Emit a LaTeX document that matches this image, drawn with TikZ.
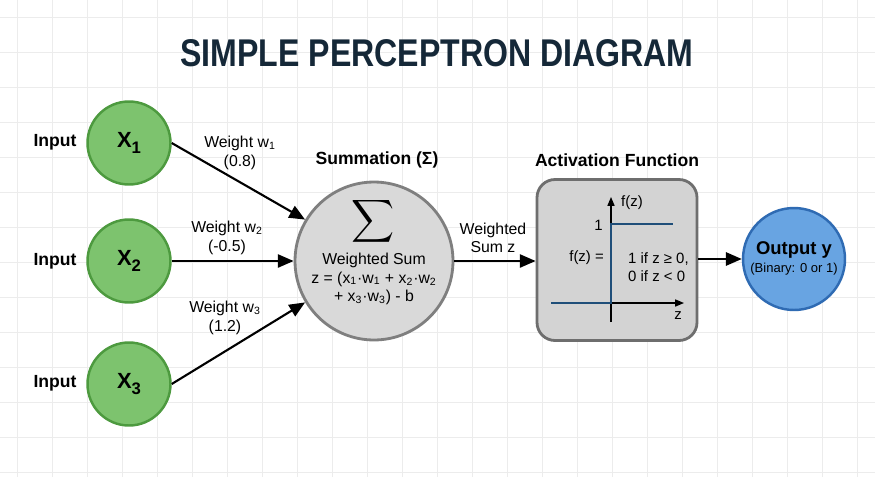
\documentclass[tikz,border=0pt]{standalone}
\usepackage{fontspec}
\setmainfont{Liberation Sans}
\usetikzlibrary{arrows.meta}

\definecolor{gridgray}{HTML}{ECECEC}
\definecolor{inputgreen}{HTML}{7DC36E}
\definecolor{greenedge}{HTML}{4D9A3F}
\definecolor{sumgray}{HTML}{D9D9D9}
\definecolor{sumedge}{HTML}{7F7F7F}
\definecolor{boxgray}{HTML}{D3D3D3}
\definecolor{boxedge}{HTML}{6E6E6E}
\definecolor{outblue}{HTML}{68A4E2}
\definecolor{outedge}{HTML}{2F6BB3}
\definecolor{stepnavy}{HTML}{1F4E79}
\definecolor{titlenavy}{HTML}{152838}

\tikzset{
  inputnode/.style={circle, draw=greenedge, fill=inputgreen, line width=1.4pt,
    minimum size=1.66cm, inner sep=0pt, font=\fontsize{12.5}{12.5}\selectfont\bfseries},
  inputlabel/.style={font=\fontsize{10}{10}\selectfont\bfseries},
  weightlabel/.style={align=center, font=\fontsize{9}{10.5}\selectfont},
  headlabel/.style={font=\fontsize{10}{10}\selectfont\bfseries},
  flow/.style={line width=1.2pt, -{Triangle[length=9pt,width=7.5pt]}},
}

\newcommand{\xsub}[2]{#1\raisebox{-0.5ex}{\fontsize{9.5}{9.5}\selectfont #2}}

\begin{document}
\begin{tikzpicture}[x=0.02cm, y=-0.02cm]
    \useasboundingbox (0,0) rectangle (875,477);
    \fill[white] (0,0) rectangle (875,477);

    % faint background grid
    \foreach \gx in {17,52,...,875}
        \draw[gridgray, line width=0.4pt] (\gx,0) -- (\gx,477);
    \foreach \gy in {17,52,...,477}
        \draw[gridgray, line width=0.4pt] (0,\gy) -- (875,\gy);

    % title
    \node[text=titlenavy, font=\fontsize{22}{22}\selectfont\bfseries] (title) at (437,53)
        {\scalebox{0.83}[1]{SIMPLE PERCEPTRON DIAGRAM}};

    % inputs
    \node[inputnode] (x1) at (129,143) {\xsub{X}{1}};
    \node[inputnode] (x2) at (129,261) {\xsub{X}{2}};
    \node[inputnode] (x3) at (129,384) {\xsub{X}{3}};
    \node[inputlabel] (in1) at (55,142) {Input};
    \node[inputlabel] (in2) at (55,261) {Input};
    \node[inputlabel] (in3) at (55,383) {Input};

    % summation
    \node[circle, draw=sumedge, fill=sumgray, line width=1.6pt, minimum size=3.16cm,
        inner sep=0pt] (sum) at (374,261) {};
    \node (sigma) at (373,221) {\scalebox{1.7}{$\displaystyle\sum$}};
    \node[align=center, font=\fontsize{9}{10.6}\selectfont] (sumtext) at (374,279)
        {Weighted Sum\\z = (x\textsubscript{1}·w\textsubscript{1} + x\textsubscript{2}·w\textsubscript{2}\\+ x\textsubscript{3}·w\textsubscript{3}) - b};
    \node[headlabel] (sumhead) at (377,160) {Summation (Σ)};

    % weighted inputs
    \draw[flow] (x1.east) -- (sum.149);
    \draw[flow] (x2.east) -- (sum.west);
    \draw[flow] (x3.east) -- (sum.211);
    \node[weightlabel] (w1) at (240,153) {Weight w\textsubscript{1}\\(0.8)};
    \node[weightlabel] (w2) at (227,238) {Weight w\textsubscript{2}\\(-0.5)};
    \node[weightlabel] (w3) at (225,318) {Weight w\textsubscript{3}\\(1.2)};

    % activation function
    \node[draw=boxedge, fill=boxgray, line width=1.6pt, rounded corners=0.36cm,
        minimum width=3.2cm, minimum height=3.22cm, inner sep=0pt] (act) at (617,260) {};
    \node[headlabel] (acthead) at (617,160) {Activation Function};
    \draw[line width=0.7pt, -{Triangle[length=5pt,width=4pt]}] (611,322) -- (611,197);
    \draw[line width=0.7pt, -{Triangle[length=5pt,width=4pt]}] (551,303) -- (684,303);
    \draw[stepnavy, line width=1.5pt] (551,303) -- (611,303) -- (611,224) -- (673,224);
    \node[anchor=west, font=\fontsize{8.5}{8.5}\selectfont] (fzaxis) at (615,203) {f(z)};
    \node[anchor=east, font=\fontsize{8.5}{8.5}\selectfont] (one) at (609,225) {1};
    \node[font=\fontsize{8.5}{8.5}\selectfont] (zaxis) at (678,316) {z};
    \node[anchor=east, font=\fontsize{8.5}{8.5}\selectfont] (fzeq) at (610,258) {f(z) =};
    \node[anchor=west, align=left, font=\fontsize{8.5}{10}\selectfont] (cases) at (622,267)
        {1 if z ≥ 0,\\0 if z < 0};

    % output
    \node[circle, draw=outedge, fill=outblue, line width=1.4pt, minimum size=2.04cm,
        inner sep=0pt] (out) at (794,259) {};
    \node[font=\fontsize{10.5}{10.5}\selectfont\bfseries] (outtext) at (794,250) {Output y};
    \node[font=\fontsize{7.4}{7.4}\selectfont] (outsub) at (794,269) {(Binary: 0 or 1)};

    % sum to activation to output
    \draw[flow] (sum.east) -- (sum.east -| act.west);
    \node[align=center, font=\fontsize{9}{10.3}\selectfont] (zlabel) at (493,238) {Weighted\\Sum z};
    \draw[flow] (act.east |- out.west) -- (out.west);
\end{tikzpicture}
\end{document}
